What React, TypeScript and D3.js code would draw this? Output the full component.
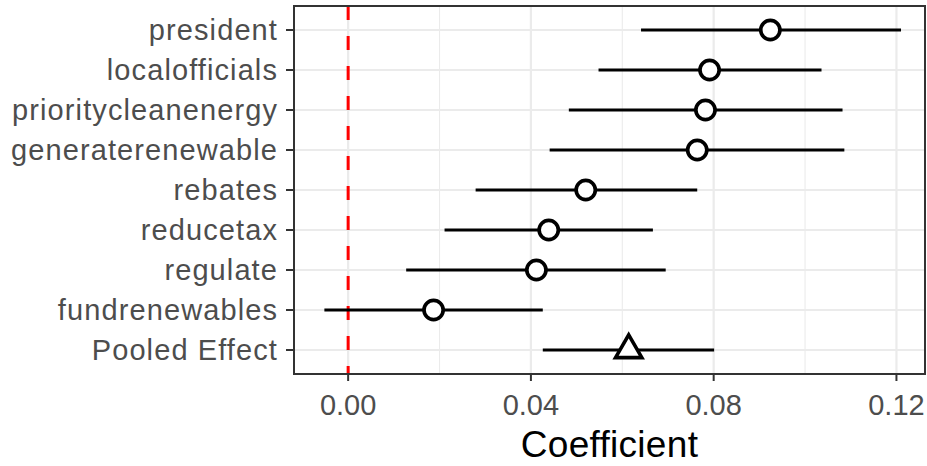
import { useEffect, useRef } from "react";
import * as d3 from "d3";

// rows, top to bottom
const terms = [
  "president",
  "localofficials",
  "prioritycleanenergy",
  "generaterenewable",
  "rebates",
  "reducetax",
  "regulate",
  "fundrenewables",
  "Pooled Effect",
];
const estimate = [0.0924, 0.0791, 0.0782, 0.0764, 0.052, 0.0439, 0.0412, 0.0187, 0.0614];
const lower = [0.0641, 0.0548, 0.0483, 0.0441, 0.0279, 0.0211, 0.0127, -0.0052, 0.0426];
const upper = [0.121, 0.1036, 0.1082, 0.1086, 0.0764, 0.0667, 0.0695, 0.0426, 0.0801];
const xTicks = [0, 0.04, 0.08, 0.12];
const xMinor = [0.02, 0.06, 0.1];

export default function App() {
  const ref = useRef<SVGSVGElement>(null);

  useEffect(() => {
    const width = 927;
    const height = 466;
    const m = { top: 6, right: 2, bottom: 92, left: 294 };
    const iw = width - m.left - m.right;
    const ih = height - m.top - m.bottom;

    const svg = d3.select(ref.current);
    svg.selectAll("*").remove();

    const x = d3.scaleLinear().domain([-0.01185, 0.12625]).range([0, iw]);
    const y = d3.scalePoint<string>().domain(terms).range([0, ih]).padding(0.6);

    const g = svg.append("g").attr("transform", `translate(${m.left},${m.top})`);

    // grid
    g.selectAll(".minor")
      .data(xMinor)
      .enter()
      .append("line")
      .attr("x1", d => x(d))
      .attr("x2", d => x(d))
      .attr("y1", 0)
      .attr("y2", ih)
      .attr("stroke", "#ebebeb")
      .attr("stroke-width", 1.1);

    g.selectAll(".major")
      .data(xTicks)
      .enter()
      .append("line")
      .attr("x1", d => x(d))
      .attr("x2", d => x(d))
      .attr("y1", 0)
      .attr("y2", ih)
      .attr("stroke", "#ebebeb")
      .attr("stroke-width", 2.2);

    g.selectAll(".hgrid")
      .data(terms)
      .enter()
      .append("line")
      .attr("x1", 0)
      .attr("x2", iw)
      .attr("y1", d => y(d)!)
      .attr("y2", d => y(d)!)
      .attr("stroke", "#ebebeb")
      .attr("stroke-width", 2.2);

    // zero line
    g.append("line")
      .attr("x1", x(0))
      .attr("x2", x(0))
      .attr("y1", 0)
      .attr("y2", ih)
      .attr("stroke", "#ff0000")
      .attr("stroke-width", 3)
      .attr("stroke-dasharray", "14,16");

    // intervals
    g.selectAll(".ci")
      .data(terms)
      .enter()
      .append("line")
      .attr("x1", (d, i) => x(lower[i]))
      .attr("x2", (d, i) => x(upper[i]))
      .attr("y1", d => y(d)!)
      .attr("y2", d => y(d)!)
      .attr("stroke", "#000")
      .attr("stroke-width", 3.2);

    // points
    const sym = d3.symbol().type(d3.symbolTriangle).size(300);
    terms.forEach((t, i) => {
      if (t === "Pooled Effect") {
        g.append("path")
          .attr("d", sym()!)
          .attr("transform", `translate(${x(estimate[i])},${y(t)!})`)
          .attr("fill", "#fff")
          .attr("stroke", "#000")
          .attr("stroke-width", 3.6)
          .attr("stroke-linejoin", "miter");
      } else {
        g.append("circle")
          .attr("cx", x(estimate[i]))
          .attr("cy", y(t)!)
          .attr("r", 9.6)
          .attr("fill", "#fff")
          .attr("stroke", "#000")
          .attr("stroke-width", 3.7);
      }
    });

    // panel border
    g.append("rect")
      .attr("width", iw)
      .attr("height", ih)
      .attr("fill", "none")
      .attr("stroke", "#333")
      .attr("stroke-width", 2);

    const font = "'Liberation Sans', Arial, sans-serif";

    // x axis
    const xa = g.append("g").attr("transform", `translate(0,${ih})`);
    xTicks.forEach(t => {
      xa.append("line")
        .attr("x1", x(t))
        .attr("x2", x(t))
        .attr("y1", 0)
        .attr("y2", 7)
        .attr("stroke", "#333")
        .attr("stroke-width", 2);
      xa.append("text")
        .attr("x", x(t))
        .attr("y", 41)
        .attr("text-anchor", "middle")
        .attr("font-family", font)
        .attr("font-size", 29)
        .attr("fill", "#4d4d4d")
        .text(d3.format(".2f")(t));
    });

    g.append("text")
      .attr("x", iw / 2)
      .attr("y", ih + 83)
      .attr("text-anchor", "middle")
      .attr("font-family", font)
      .attr("font-size", 37)
      .attr("letter-spacing", 0.3)
      .attr("fill", "#000")
      .text("Coefficient");

    // y axis
    terms.forEach(t => {
      g.append("line")
        .attr("x1", -8)
        .attr("x2", 0)
        .attr("y1", y(t)!)
        .attr("y2", y(t)!)
        .attr("stroke", "#333")
        .attr("stroke-width", 2);
      g.append("text")
        .attr("x", -16)
        .attr("y", y(t)!)
        .attr("dy", "0.35em")
        .attr("text-anchor", "end")
        .attr("font-family", font)
        .attr("font-size", 29)
        .attr("letter-spacing", 1.1)
        .attr("fill", "#4d4d4d")
        .text(t);
    });
  }, []);

  return (
    <svg
      ref={ref}
      width={927}
      height={466}
      style={{ position: "absolute", left: 0, top: 0, background: "#fff" }}
    ></svg>
  );
}
